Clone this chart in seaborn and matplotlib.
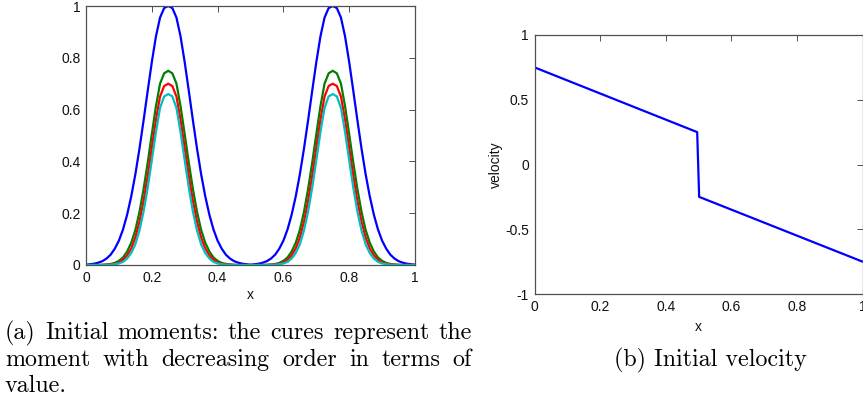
import numpy as np
import pandas as pd
import seaborn as sns
import matplotlib.pyplot as plt

# ---- data ----
# left panel: four initial moments sampled every 0.0125 on [0, 1]
x_grid = np.linspace(0, 1, 81)

m0 = [0.001, 0.003, 0.005, 0.009, 0.015, 0.025, 0.040, 0.063, 0.094, 0.137,
      0.194, 0.265, 0.350, 0.449, 0.558, 0.672, 0.783, 0.882, 0.955, 0.992,
      1.000,
      0.992, 0.955, 0.882, 0.783, 0.672, 0.558, 0.449, 0.350, 0.265, 0.194,
      0.137, 0.094, 0.063, 0.040, 0.025, 0.015, 0.009, 0.005, 0.003, 0.001,
      0.003, 0.005, 0.009, 0.015, 0.025, 0.040, 0.063, 0.094, 0.137, 0.194,
      0.265, 0.350, 0.449, 0.558, 0.672, 0.783, 0.882, 0.955, 0.992, 1.000,
      0.992, 0.955, 0.882, 0.783, 0.672, 0.558, 0.449, 0.350, 0.265, 0.194,
      0.137, 0.094, 0.063, 0.040, 0.025, 0.015, 0.009, 0.005, 0.003, 0.001]

m1 = [0.000, 0.000, 0.000, 0.000, 0.001, 0.002, 0.004, 0.008, 0.016, 0.029,
      0.052, 0.086, 0.135, 0.205, 0.293, 0.395, 0.505, 0.612, 0.700, 0.740,
      0.750,
      0.740, 0.700, 0.612, 0.505, 0.395, 0.293, 0.205, 0.135, 0.086, 0.052,
      0.029, 0.016, 0.008, 0.004, 0.002, 0.001, 0.000, 0.000, 0.000, 0.000,
      0.000, 0.000, 0.000, 0.001, 0.002, 0.004, 0.008, 0.016, 0.029, 0.052,
      0.086, 0.135, 0.205, 0.293, 0.395, 0.505, 0.612, 0.700, 0.740, 0.750,
      0.740, 0.700, 0.612, 0.505, 0.395, 0.293, 0.205, 0.135, 0.086, 0.052,
      0.029, 0.016, 0.008, 0.004, 0.002, 0.001, 0.000, 0.000, 0.000, 0.000]

m2 = [0.000, 0.000, 0.000, 0.000, 0.000, 0.001, 0.002, 0.005, 0.010, 0.020,
      0.037, 0.064, 0.106, 0.167, 0.247, 0.344, 0.452, 0.560, 0.650, 0.691,
      0.700,
      0.691, 0.650, 0.560, 0.452, 0.344, 0.247, 0.167, 0.106, 0.064, 0.037,
      0.020, 0.010, 0.005, 0.002, 0.001, 0.000, 0.000, 0.000, 0.000, 0.000,
      0.000, 0.000, 0.000, 0.000, 0.001, 0.002, 0.005, 0.010, 0.020, 0.037,
      0.064, 0.106, 0.167, 0.247, 0.344, 0.452, 0.560, 0.650, 0.691, 0.700,
      0.691, 0.650, 0.560, 0.452, 0.344, 0.247, 0.167, 0.106, 0.064, 0.037,
      0.020, 0.010, 0.005, 0.002, 0.001, 0.000, 0.000, 0.000, 0.000, 0.000]

m3 = [0.000, 0.000, 0.000, 0.000, 0.000, 0.000, 0.001, 0.003, 0.006, 0.012,
      0.025, 0.046, 0.080, 0.133, 0.206, 0.298, 0.404, 0.513, 0.606, 0.651,
      0.660,
      0.651, 0.606, 0.513, 0.404, 0.298, 0.206, 0.133, 0.080, 0.046, 0.025,
      0.012, 0.006, 0.003, 0.001, 0.000, 0.000, 0.000, 0.000, 0.000, 0.000,
      0.000, 0.000, 0.000, 0.000, 0.000, 0.001, 0.003, 0.006, 0.012, 0.025,
      0.046, 0.080, 0.133, 0.206, 0.298, 0.404, 0.513, 0.606, 0.651, 0.660,
      0.651, 0.606, 0.513, 0.404, 0.298, 0.206, 0.133, 0.080, 0.046, 0.025,
      0.012, 0.006, 0.003, 0.001, 0.000, 0.000, 0.000, 0.000, 0.000, 0.000]

moment_names = ['m0', 'm1', 'm2', 'm3']
moment_colors = ['#0000ff', '#008000', '#ff0000', '#00bfbf']

# right panel: initial velocity (jump at x = 0.5)
vel_x = [0.0, 0.496, 0.502, 1.0]
vel_y = [0.75, 0.25, -0.25, -0.75]

x_ticks = [0, 0.2, 0.4, 0.6, 0.8, 1]
x_tick_labels = ['0', '0.2', '0.4', '0.6', '0.8', '1']
m_ticks = [0, 0.2, 0.4, 0.6, 0.8, 1]
m_tick_labels = ['0', '0.2', '0.4', '0.6', '0.8', '1']
v_ticks = [-1, -0.5, 0, 0.5, 1]
v_tick_labels = ['-1', '-0.5', '0', '0.5', '1']

caption_a = ['(a) Initial moments: the cures represent the',
             'moment with decreasing order in terms of',
             'value.']
caption_b = '(b) Initial velocity'

for m in (m0, m1, m2, m3):
    assert len(m) == len(x_grid)

moments = pd.DataFrame({
    'x': np.tile(x_grid, 4),
    'value': m0 + m1 + m2 + m3,
    'moment': np.repeat(moment_names, len(x_grid)),
})

# ---- styling ----
sns.set_theme(style='white')
plt.rcParams['font.family'] = ['Liberation Sans', 'DejaVu Sans']
spine_col = '#505050'
tick_size = 10

W, H = 863, 404
fig = plt.figure(figsize=(W / 100, H / 100), dpi=100)
fig.patch.set_facecolor('white')

ax1 = fig.add_axes([86 / W, 1 - 265 / H, 329 / W, 259 / H])
ax2 = fig.add_axes([534.5 / W, 1 - 294 / H, 328 / W, 259 / H])

sns.lineplot(data=moments, x='x', y='value', hue='moment',
             palette=moment_colors, legend=False, linewidth=1.6, ax=ax1)
sns.lineplot(x=vel_x, y=vel_y, color='#0000ff', linewidth=1.6, ax=ax2)

for ax in (ax1, ax2):
    ax.set_xlim(0, 1)
    ax.set_xticks(x_ticks, x_tick_labels)
    ax.tick_params(direction='in', top=True, right=True, length=4,
                   width=0.7, color=spine_col, labelsize=tick_size,
                   labelcolor='#111111')
    ax.tick_params(axis='y', pad=4)
    ax.tick_params(axis='x', pad=4.5)
    for s in ax.spines.values():
        s.set_color(spine_col)
        s.set_linewidth(0.9)
    ax.set_xlabel('x', fontsize=tick_size, color='#111111')
    ax.set_ylabel('')

ax1.set_ylim(0, 1)
ax1.set_yticks(m_ticks, m_tick_labels)
ax1.xaxis.set_label_coords(0.5, -0.09)

ax2.set_ylim(-1, 1)
ax2.set_yticks(v_ticks, v_tick_labels)
ax2.set_ylabel('velocity', fontsize=tick_size, color='#111111')
ax2.yaxis.set_label_coords(-0.096, 0.5)
ax2.xaxis.set_label_coords(0.5, -0.10)

# ---- captions (serif, justified like the document) ----
cap_font = dict(family='cmr10', size=17.3, color='black')
renderer = fig.canvas.get_renderer()


def justified_line(line, x0, x1, y):
    words = line.split(' ')
    texts = [fig.text(0, 1 - y / H, w, ha='left', va='baseline', **cap_font)
             for w in words]
    widths = [t.get_window_extent(renderer).width for t in texts]
    gap = (x1 - x0 - sum(widths)) / (len(words) - 1)
    pos = x0
    for t, w in zip(texts, widths):
        t.set_x(pos / W)
        pos += w + gap


justified_line(caption_a[0], 5, 472, 339)
justified_line(caption_a[1], 5, 472, 366)
fig.text(5 / W, 1 - 392 / H, caption_a[2], ha='left', va='baseline', **cap_font)
fig.text(710 / W, 1 - 366 / H, caption_b, ha='center', va='baseline', **cap_font)

fig.savefig('out.png', dpi=100, facecolor='white')
